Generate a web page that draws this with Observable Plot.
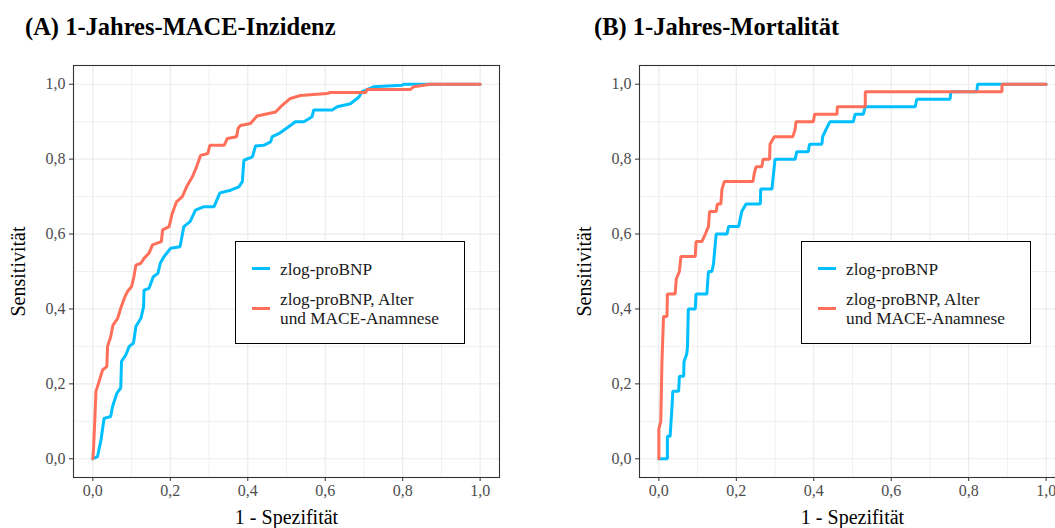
<!DOCTYPE html>
<html>
<head>
<meta charset="utf-8">
<script src="https://cdn.jsdelivr.net/npm/d3@7"></script>
<script src="https://cdn.jsdelivr.net/npm/@observablehq/plot@0.6"></script>
<style>
  html, body { margin: 0; padding: 0; background: #fff; overflow: hidden; }
  #wrap { position: relative; width: 1055px; height: 528px; overflow: hidden; font-family: "Liberation Serif", "Times New Roman", serif; }
  .panel { position: absolute; top: 0; }
  .title { position: absolute; font-family: "Liberation Serif", serif; font-weight: bold; font-size: 24.5px; line-height: 25px; color: #000; white-space: nowrap; }
  .legend { position: absolute; border: 1px solid #000; background: #fff; box-sizing: border-box; }
  .legend .sw { position: absolute; height: 3px; width: 18px; }
  .legend .lbl { position: absolute; font-family: "Liberation Serif", serif; font-size: 17.3px; line-height: 19px; color: #1a1a1a; white-space: nowrap; }
</style>
</head>
<body>
<div id="wrap"></div>
<script>
// ---- Data ----
const seriesNames = ["zlog-proBNP", "zlog-proBNP, Alter\nund MACE-Anamnese"];
const seriesColors = ["#00BFFF", "#FF6F59"];
const panelTitles = ["(A) 1-Jahres-MACE-Inzidenz", "(B) 1-Jahres-Mortalität"];
const tickValues = [0, 0.2, 0.4, 0.6, 0.8, 1.0];
const minorTickValues = [0.1, 0.3, 0.5, 0.7, 0.9];
const xLabel = "1 - Spezifität";
const yLabel = "Sensitivität";

// Panel A, zlog-proBNP
const mace_base_fpr = [0, 0.012, 0.021, 0.029, 0.046, 0.051, 0.062, 0.072, 0.074, 0.085, 0.094, 0.105, 0.111, 0.124, 0.131, 0.132, 0.145, 0.156, 0.168, 0.174, 0.184, 0.201, 0.225, 0.235, 0.251, 0.265, 0.287, 0.313, 0.328, 0.356, 0.377, 0.386, 0.39, 0.412, 0.42, 0.441, 0.459, 0.463, 0.48, 0.51, 0.523, 0.545, 0.566, 0.57, 0.618, 0.631, 0.665, 0.687, 0.695, 0.725, 0.798, 0.802, 0.86, 1.0];
const mace_base_tpr = [0, 0.006, 0.05, 0.108, 0.113, 0.14, 0.175, 0.189, 0.26, 0.277, 0.3, 0.309, 0.353, 0.375, 0.406, 0.45, 0.455, 0.486, 0.495, 0.522, 0.54, 0.562, 0.566, 0.62, 0.633, 0.664, 0.673, 0.673, 0.71, 0.717, 0.726, 0.74, 0.797, 0.806, 0.835, 0.837, 0.846, 0.86, 0.868, 0.89, 0.9, 0.9, 0.913, 0.931, 0.931, 0.94, 0.948, 0.966, 0.98, 0.993, 0.997, 1.0, 1.0, 1.0];
// Panel A, zlog-proBNP + Alter + MACE-Anamnese
const mace_full_fpr = [0, 0.002, 0.005, 0.008, 0.016, 0.025, 0.036, 0.038, 0.046, 0.052, 0.064, 0.072, 0.081, 0.089, 0.1, 0.106, 0.111, 0.124, 0.132, 0.145, 0.154, 0.177, 0.18, 0.197, 0.205, 0.216, 0.231, 0.242, 0.257, 0.268, 0.278, 0.297, 0.302, 0.339, 0.347, 0.371, 0.375, 0.381, 0.407, 0.424, 0.472, 0.485, 0.51, 0.536, 0.605, 0.613, 0.704, 0.708, 0.82, 0.828, 0.871, 1.0];
const mace_full_tpr = [0, 0.033, 0.104, 0.18, 0.206, 0.237, 0.246, 0.3, 0.326, 0.357, 0.375, 0.402, 0.428, 0.446, 0.46, 0.486, 0.517, 0.522, 0.535, 0.549, 0.571, 0.58, 0.611, 0.62, 0.655, 0.686, 0.7, 0.726, 0.753, 0.78, 0.81, 0.815, 0.837, 0.837, 0.855, 0.86, 0.882, 0.89, 0.895, 0.915, 0.926, 0.94, 0.962, 0.97, 0.975, 0.978, 0.978, 0.986, 0.986, 0.993, 1.0, 1.0];
// Panel B, zlog-proBNP
const mort_base_fpr = [0, 0.022, 0.022, 0.029, 0.034, 0.036, 0.051, 0.053, 0.064, 0.065, 0.072, 0.074, 0.076, 0.094, 0.096, 0.124, 0.128, 0.137, 0.141, 0.148, 0.176, 0.18, 0.206, 0.21, 0.214, 0.225, 0.262, 0.263, 0.292, 0.3, 0.352, 0.356, 0.386, 0.389, 0.421, 0.423, 0.432, 0.442, 0.502, 0.507, 0.528, 0.533, 0.662, 0.666, 0.752, 0.754, 0.821, 0.823, 1.0];
const mort_base_tpr = [0, 0, 0.06, 0.06, 0.14, 0.18, 0.18, 0.22, 0.22, 0.26, 0.28, 0.30, 0.40, 0.40, 0.44, 0.44, 0.50, 0.50, 0.52, 0.60, 0.60, 0.62, 0.62, 0.64, 0.66, 0.68, 0.68, 0.72, 0.72, 0.80, 0.80, 0.82, 0.82, 0.84, 0.84, 0.86, 0.88, 0.90, 0.90, 0.92, 0.92, 0.94, 0.94, 0.96, 0.96, 0.98, 0.98, 1.0, 1.0];
// Panel B, zlog-proBNP + Alter + MACE-Anamnese
const mort_full_fpr = [0, 0, 0.005, 0.008, 0.012, 0.021, 0.022, 0.042, 0.045, 0.053, 0.057, 0.094, 0.096, 0.111, 0.12, 0.128, 0.131, 0.148, 0.151, 0.16, 0.163, 0.169, 0.243, 0.246, 0.251, 0.266, 0.269, 0.286, 0.287, 0.298, 0.346, 0.352, 0.354, 0.399, 0.402, 0.46, 0.461, 0.533, 0.533, 0.886, 0.886, 1.0];
const mort_full_tpr = [0, 0.08, 0.10, 0.26, 0.38, 0.38, 0.44, 0.44, 0.48, 0.50, 0.54, 0.54, 0.58, 0.58, 0.60, 0.62, 0.66, 0.66, 0.68, 0.68, 0.72, 0.74, 0.74, 0.76, 0.78, 0.78, 0.80, 0.80, 0.84, 0.86, 0.86, 0.88, 0.90, 0.90, 0.92, 0.92, 0.94, 0.94, 0.98, 0.98, 1.0, 1.0];

// ---- Helpers ----
const toRows = (xs, ys) => xs.map((x, i) => ({x, y: ys[i]}));
const fmt = d => d.toFixed(1).replace(".", ",");

function makePanel(baseRows, fullRows) {
  return Plot.plot({
    width: 520,
    height: 528,
    marginLeft: 73,
    marginRight: 21,
    marginTop: 65,
    marginBottom: 51,
    style: {fontFamily: "'Liberation Serif', 'Times New Roman', serif", fontSize: "16px", background: "transparent", overflow: "visible"},
    x: {domain: [-0.05, 1.05]},
    y: {domain: [-0.05, 1.05]},
    marks: [
      Plot.gridX(minorTickValues, {stroke: "#ebebeb", strokeOpacity: 1, strokeWidth: 0.7}),
      Plot.gridY(minorTickValues, {stroke: "#ebebeb", strokeOpacity: 1, strokeWidth: 0.7}),
      Plot.gridX(tickValues, {stroke: "#ebebeb", strokeOpacity: 1, strokeWidth: 1.2}),
      Plot.gridY(tickValues, {stroke: "#ebebeb", strokeOpacity: 1, strokeWidth: 1.2}),
      Plot.axisX(tickValues, {tickFormat: fmt, tickSize: 4, tickPadding: 3, label: null, stroke: "#333", fill: "#4d4d4d", fontSize: 16}),
      Plot.axisY(tickValues, {tickFormat: fmt, tickSize: 4, tickPadding: 4, label: null, stroke: "#333", fill: "#4d4d4d", fontSize: 16}),
      Plot.line(baseRows, {x: "x", y: "y", stroke: seriesColors[0], strokeWidth: 3, strokeLinejoin: "miter"}),
      Plot.line(fullRows, {x: "x", y: "y", stroke: seriesColors[1], strokeWidth: 3, strokeLinejoin: "miter"}),
      Plot.frame({stroke: "#333", strokeWidth: 1.1}),
      Plot.text([xLabel], {frameAnchor: "bottom", dy: 40, lineAnchor: "middle", fontSize: 20, fill: "#000"}),
      Plot.text([yLabel], {frameAnchor: "left", dx: -55, rotate: -90, textAnchor: "middle", lineAnchor: "middle", fontSize: 20, fill: "#000"})
    ]
  });
}

function addLegend(wrap, left) {
  const lg = document.createElement("div");
  lg.className = "legend";
  Object.assign(lg.style, {left: left + "px", top: "241px", width: "230px", height: "103px"});
  const sw1 = document.createElement("div");
  sw1.className = "sw";
  Object.assign(sw1.style, {left: "16px", top: "25px", background: seriesColors[0]});
  const sw2 = document.createElement("div");
  sw2.className = "sw";
  Object.assign(sw2.style, {left: "16px", top: "65px", background: seriesColors[1]});
  const t1 = document.createElement("div");
  t1.className = "lbl";
  Object.assign(t1.style, {left: "44px", top: "18px"});
  t1.textContent = seriesNames[0];
  const t2 = document.createElement("div");
  t2.className = "lbl";
  Object.assign(t2.style, {left: "44px", top: "48px", whiteSpace: "pre"});
  t2.textContent = seriesNames[1];
  lg.append(sw1, sw2, t1, t2);
  wrap.append(lg);
}

const wrap = document.getElementById("wrap");
const panels = [
  {left: 0, titleLeft: 25, legendLeft: 235, base: toRows(mace_base_fpr, mace_base_tpr), full: toRows(mace_full_fpr, mace_full_tpr)},
  {left: 566, titleLeft: 594, legendLeft: 801, base: toRows(mort_base_fpr, mort_base_tpr), full: toRows(mort_full_fpr, mort_full_tpr)}
];
panels.forEach((p, i) => {
  const svg = makePanel(p.base, p.full);
  svg.classList.add("panel");
  svg.style.left = p.left + "px";
  wrap.append(svg);
  const t = document.createElement("div");
  t.className = "title";
  t.style.left = p.titleLeft + "px";
  t.style.top = "14px";
  t.textContent = panelTitles[i];
  wrap.append(t);
  addLegend(wrap, p.legendLeft);
});
</script>
</body>
</html>
